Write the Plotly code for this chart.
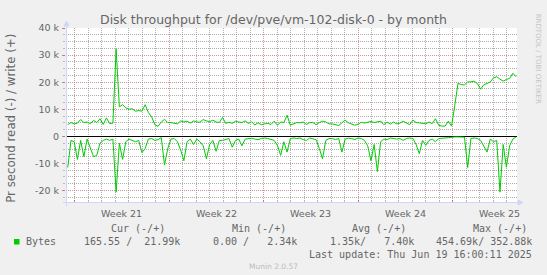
import numpy as np
import plotly.graph_objects as go

# ---------------- data (bytes per second, in thousands) ----------------
write_k = [
    4.3, 5.1, 4.6, 4.9, 6.2, 5.1, 5.3, 4.7, 5.9, 5.1, 6.5, 4.4, 6.8, 4.7,
    4.9, 32.2, 10.9, 11.7, 10.5, 10.0, 10.2, 9.3, 9.5, 9.3, 11.7, 8.8, 7.2, 4.3,
    3.7, 5.3, 6.3, 5.1, 5.1, 4.8, 4.6, 5.7, 5.3, 5.6, 4.9, 5.7, 5.3, 5.2,
    6.2, 5.7, 5.4, 6.0, 5.3, 5.1, 7.0, 4.8, 5.2, 4.8, 5.6, 5.3, 5.1, 5.7,
    4.8, 5.4, 4.2, 5.0, 4.3, 4.6, 4.8, 4.4, 5.6, 4.1, 5.3, 5.1, 7.8, 4.1,
    4.6, 5.1, 5.0, 5.3, 4.4, 5.1, 5.1, 4.3, 5.1, 5.6, 5.3, 4.6, 4.6, 4.3,
    4.0, 5.0, 6.0, 5.0, 4.5, 4.1, 4.5, 5.2, 4.9, 5.3, 5.5, 5.1, 5.3, 5.6,
    4.3, 5.3, 4.5, 5.3, 4.6, 4.9, 5.6, 4.8, 4.3, 6.0, 5.1, 5.0, 4.9, 4.6,
    5.3, 4.7, 6.5, 4.1, 3.8, 3.8, 5.6, 3.8, 11.5, 19.6, 19.1, 19.0, 20.1, 20.1,
    20.4, 19.5, 17.4, 19.1, 19.5, 20.1, 21.6, 22.0, 21.1, 20.4, 21.0, 21.4, 23.3, 22.0,
]
read_k = [
    -11.5, -1.5, -2.0, -8.5, -1.5, -7.5, -1.0, -4.5, -7.5, -7.0, -2.5, -1.5, -1.0, -1.5,
    -1.0, -20.6, -2.5, -8.5, -2.0, -1.0, -1.5, -2.0, -1.5, -6.0, -4.5, -1.0, -0.8, -1.5,
    -1.2, -0.5, -10.6, -4.5, -1.0, -0.8, -2.0, -5.0, -9.0, -2.0, -1.0, -3.0, -1.0, -2.0,
    -3.5, -8.3, -3.0, -1.5, -5.5, -1.5, -1.5, -1.0, -0.8, -4.0, -1.5, -1.0, -3.5, -1.0,
    -0.8, -0.7, -1.0, -1.2, -0.8, -0.6, -0.8, -1.2, -1.5, -3.3, -7.0, -2.0, -5.8, -0.8,
    -0.6, -0.8, -0.6, -1.2, -1.5, -0.6, -0.8, -1.2, -4.5, -8.3, -1.5, -0.8, -0.8, -1.2,
    -0.8, -5.8, -1.0, -0.7, -0.8, -1.2, -0.6, -0.8, -1.5, -3.5, -9.0, -3.0, -13.0, -2.0,
    -1.0, -1.2, -0.6, -0.8, -1.0, -0.8, -1.5, -0.8, -0.6, -0.8, -3.0, -6.4, -1.5, -3.3,
    -1.5, -1.0, -2.0, -0.8, -0.6, -0.6, -0.5, -0.3, -0.2, -0.2, -0.2, -0.3, -11.5, -0.8,
    -0.6, -0.8, -1.5, -3.5, -5.8, -1.0, -2.0, -1.5, -20.6, -3.0, -11.4, -3.5, -1.0, -0.2,
]
# sample times, in days since the start of Week 21
days = np.linspace(-0.5, 32.71, len(write_k))

week_starts = [0, 7, 14, 21, 28]
week_labels = ["Week 21", "Week 22", "Week 23", "Week 24", "Week 25"]
y_tickvals = [-20000, -10000, 0, 10000, 20000, 30000, 40000]
y_ticktext = ["-20 k", "-10 k", "0", "10 k", "20 k", "30 k", "40 k"]

legend_name = "Bytes"
legend_headers = ["Cur (-/+)", "Min (-/+)", "Avg (-/+)", "Max (-/+)"]
legend_values = ["165.55 /  21.99k", "0.00 /   2.34k", "1.35k/   7.40k", "454.69k/ 352.88k"]
last_update = "Last update: Thu Jun 19 16:00:11 2025"
title = "Disk throughput for /dev/pve/vm-102-disk-0 - by month"
y_title = "Pr second read (-) / write (+)"

# ---------------- layout geometry ----------------
W, H = 547, 275
ML, MR, MT, MB = 66, 30, 28, 72
PW, PH = W - ML - MR, H - MT - MB


def px(x):
    return (x - ML) / PW


def py(y):
    return (H - MB - y) / PH


def nb(s):
    return s.replace(" ", "\u00a0")


GREEN = "#00CC00"
FONT = "#666666"
AXIS = "#CFD6F8"
MGRID = "rgba(240,120,120,0.42)"
GRID = "rgba(120,120,120,0.6)"
SANS = "DejaVu Sans"
MONO = "DejaVu Sans Mono"

fig = go.Figure()
fig.add_trace(go.Scatter(x=days, y=[v * 1000 for v in read_k], mode="lines",
                         line=dict(color=GREEN, width=1), hoverinfo="skip"))
fig.add_trace(go.Scatter(x=days, y=[v * 1000 for v in write_k], mode="lines",
                         line=dict(color=GREEN, width=1), hoverinfo="skip"))

ann = []
ann.append(dict(x=px(273.5), y=py(19.5), xref="paper", yref="paper", text=title,
                showarrow=False, xanchor="center", yanchor="middle",
                font=dict(family=SANS, size=12.5, color=FONT)))
ann.append(dict(x=px(11.5), y=py(118.3), xref="paper", yref="paper", text=y_title,
                showarrow=False, xanchor="center", yanchor="middle", textangle=-90,
                font=dict(family=SANS, size=11.8, color=FONT)))
for ws, lab in zip(week_starts, week_labels):
    ann.append(dict(x=ws + 3.5, y=py(213.2), xref="x", yref="paper", text=lab,
                    showarrow=False, xanchor="center", yanchor="middle",
                    font=dict(family=SANS, size=9.5, color=FONT)))
ann.append(dict(x=px(537.5), y=py(58.2), xref="paper", yref="paper",
                text="RRDTOOL / TOBI OETIKER", showarrow=False, textangle=90,
                xanchor="center", yanchor="middle",
                font=dict(family=SANS, size=7, color="#C4C4C4")))
# legend
header_x = [110.9, 231.9, 352.2, 472.5]
value_x = [83.7, 212.7, 329.5, 435.8]
mono = dict(family=MONO, size=10, color=FONT)
for hx, h in zip(header_x, legend_headers):
    ann.append(dict(x=px(hx), y=py(228.6), xref="paper", yref="paper", text=nb(h),
                    showarrow=False, xanchor="left", yanchor="middle", font=mono,
                    borderpad=0, borderwidth=0))
ann.append(dict(x=px(26.2), y=py(241.8), xref="paper", yref="paper", text=legend_name,
                showarrow=False, xanchor="left", yanchor="middle", font=mono,
                borderpad=0, borderwidth=0))
for vx, v in zip(value_x, legend_values):
    ann.append(dict(x=px(vx), y=py(241.8), xref="paper", yref="paper", text=nb(v),
                    showarrow=False, xanchor="left", yanchor="middle", font=mono,
                    borderpad=0, borderwidth=0))
ann.append(dict(x=px(532.4), y=py(254), xref="paper", yref="paper", text=nb(last_update),
                showarrow=False, xanchor="right", yanchor="middle", font=mono,
                borderpad=0, borderwidth=0))
ann.append(dict(x=px(273.5), y=py(266.2), xref="paper", yref="paper", text="Munin 2.0.57",
                showarrow=False, xanchor="center", yanchor="middle",
                font=dict(family=SANS, size=7.5, color="#BBBBBB")))

shapes = []
shapes.append(dict(type="line", xref="paper", yref="paper", x0=px(66.5), x1=px(66.5),
                   y0=py(206), y1=py(25), line=dict(color=AXIS, width=1)))
shapes.append(dict(type="line", xref="paper", yref="paper", x0=px(63), x1=px(519),
                   y0=py(202.5), y1=py(202.5), line=dict(color=AXIS, width=1)))
shapes.append(dict(type="path", xref="paper", yref="paper",
                   path=f"M {px(64)} {py(26)} L {px(66.5)} {py(21)} L {px(69)} {py(26)} Z",
                   fillcolor=AXIS, line=dict(color=AXIS, width=1)))
shapes.append(dict(type="path", xref="paper", yref="paper",
                   path=f"M {px(518)} {py(200)} L {px(523)} {py(202.5)} L {px(518)} {py(205)} Z",
                   fillcolor=AXIS, line=dict(color=AXIS, width=1)))
shapes.append(dict(type="rect", xref="paper", yref="paper", x0=px(14), x1=px(19.5),
                   y0=py(244.5), y1=py(239), fillcolor=GREEN, line=dict(width=0)))

fig.update_layout(
    width=W, height=H,
    margin=dict(l=ML, r=MR, t=MT, b=MB, pad=0),
    paper_bgcolor="#F0F0F0", plot_bgcolor="#FFFFFF",
    showlegend=False,
    annotations=ann, shapes=shapes,
    xaxis=dict(range=[(ML - 74.5) / 13.5, (W - MR - 74.5) / 13.5],
               tickmode="array", tickvals=week_starts, ticktext=[""] * len(week_starts),
               showgrid=True, gridcolor=MGRID, griddash="1px,1px", gridwidth=1,
               ticks="inside", ticklen=3, tickcolor="rgba(230,80,80,0.7)",
               zeroline=False, showline=False, fixedrange=True,
               minor=dict(tick0=0, dtick=1, showgrid=True, gridcolor=GRID,
                          griddash="1px,1px", gridwidth=1, ticks="inside",
                          ticklen=2, tickcolor="rgba(150,150,150,0.6)")),
    yaxis=dict(range=[-24600, 40000], tickmode="array", tickvals=y_tickvals,
               ticktext=y_ticktext, tickfont=dict(family=SANS, size=9.5, color=FONT),
               showgrid=True, gridcolor=MGRID, griddash="1px,1px", gridwidth=1,
               ticks="outside", ticklen=3, tickcolor="rgba(230,80,80,0.7)",
               ticklabelstandoff=1,
               zeroline=True, zerolinecolor="#000000", zerolinewidth=1,
               showline=False, fixedrange=True,
               minor=dict(tick0=0, dtick=2500, showgrid=True, gridcolor=GRID,
                          griddash="1px,1px", gridwidth=1, ticks="outside",
                          ticklen=2, tickcolor="rgba(150,150,150,0.6)")),
)

fig.write_html("out.html")
